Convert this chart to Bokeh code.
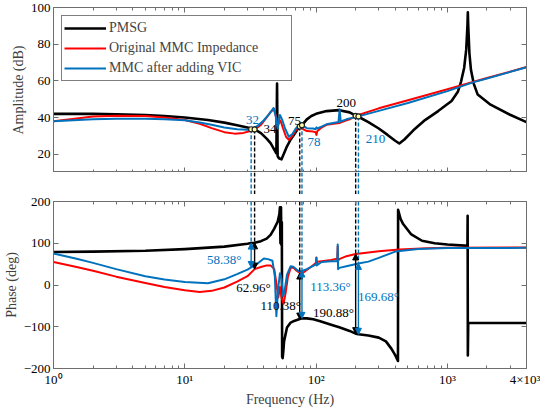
from bokeh.plotting import figure
from bokeh.models import (Range1d, FixedTicker, LinearAxis, LogAxis, Arrow, NormalHead,
                          ColumnDataSource)
from bokeh.layouts import column
from bokeh.embed import file_html
from bokeh.resources import INLINE
from bokeh.core.properties import value

# ---------------- data ----------------
pmsg_amp_f = [1, 2, 3, 5, 7, 10, 15, 20, 25, 30, 34, 38, 42, 45, 48, 49.8, 50.4, 50.9, 52, 54.5,
              57, 60, 64, 67.6, 72, 75, 78, 85, 92, 100, 120, 150, 180, 200, 210, 250, 300, 350,
              400, 430, 470, 550, 675, 850, 1075, 1200, 1270, 1340, 1390, 1420, 1430, 1440, 1470,
              1510, 1585, 1700, 2130, 3000, 4000]
pmsg_amp = [42.0, 42.0, 41.8, 41.3, 40.8, 40.0, 38.6, 37.2, 35.8, 34.6, 33.5, 31.5, 28.5, 26.0,
            22.5, 20.5, 58.5, 19.0, 17.8, 17.2, 20.5, 24.3, 28.0, 30.5, 33.5, 35.0, 35.8, 39.0,
            40.8, 42.0, 43.5, 44.0, 42.8, 41.0, 40.4, 37.5, 34.0, 30.5, 27.3, 25.8, 28.0, 33.0,
            38.6, 43.5, 49.0, 54.0, 59.6, 67.0, 77.0, 90.0, 97.4, 90.0, 75.0, 66.0, 58.5, 52.5,
            47.0, 41.5, 37.5]

red_amp_f = [1, 1.5, 2, 3, 5, 7, 10, 13, 16, 20, 24, 28, 32, 34, 38, 42, 45, 47.8, 49.3, 50.8,
             52.3, 53.5, 56, 59, 62, 66, 70, 73.5, 75, 78, 85, 95, 99, 100.5, 102, 110, 120, 150,
             160, 180, 200, 210, 300, 500, 1000, 2000, 4000]
red_amp = [38.0, 39.5, 40.5, 41.0, 40.8, 40.0, 38.6, 36.6, 34.2, 32.0, 31.2, 31.6, 32.8, 33.5,
           36.0, 40.0, 43.0, 44.6, 41.0, 35.0, 37.5, 38.4, 34.0, 29.5, 27.8, 30.0, 33.0, 35.0,
           35.0, 34.0, 32.6, 32.3, 32.0, 30.5, 32.5, 34.5, 36.0, 37.0, 37.8, 39.0, 40.8, 41.4,
           45.0, 49.4, 55.4, 61.5, 67.5]

blue_amp_f = [1, 2, 3, 5, 7, 10, 13, 16, 20, 25, 30, 32, 36, 40, 44, 47.5, 49.5, 51, 53, 55, 58,
              62, 66, 70, 75, 78, 85, 95, 99, 100.5, 102, 110, 120, 148, 151, 154, 170, 210, 300,
              500, 1000, 1585, 2000, 4000]
blue_amp = [38.0, 39.0, 39.3, 39.3, 39.0, 38.5, 37.3, 36.0, 34.6, 33.6, 33.3, 33.6, 35.5, 38.5,
            42.0, 45.2, 40.0, 34.0, 41.4, 39.0, 34.0, 29.5, 31.0, 34.0, 36.0, 35.8, 34.2, 34.0,
            33.6, 34.6, 34.0, 35.0, 36.3, 37.5, 44.5, 37.8, 39.0, 40.6, 43.6, 47.9, 54.4, 59.3,
            61.3, 67.4]

pmsg_ph_f = [1, 2, 5, 10, 20, 30, 32, 34, 38, 42, 45, 48, 51, 52.5, 53, 53.5, 54, 54.4, 54.8,
             55.1, 55.6, 56.2, 57, 60, 64, 68, 75, 78, 85, 95, 106, 130, 150, 180, 200, 210, 250,
             300, 340, 375, 400, 420, 421, 440, 460, 527, 640, 800, 1000, 1350, 1420, 1425, 1430,
             1440, 4000]
pmsg_ph = [79, 80, 82, 86, 92, 99, 100.4, 101, 105, 111, 120, 135, 152, 170, 186, 100, 186, 96,
           150, -172, -175, -160, -135, -102, -90, -86, -81.7, -79.9, -80, -82, -86, -95, -101,
           -110, -116.5, -118, -121, -126, -135, -153, -168, -182, 180, 158, 146, 122, 106, 100,
           97, 94.4, 94, 166, -169, -91, -91]

red_ph_f = [1, 1.5, 2, 3, 5, 7, 10, 13, 16, 20, 25, 30, 34, 38, 42, 45, 48, 50, 51.5, 53, 54.5,
            56.5, 58.5, 61, 64, 67, 71, 75, 80, 90, 99, 100, 100.5, 101, 103, 110, 130, 145, 146,
            147, 150, 170, 200, 250, 300, 430, 700, 1000, 4000]
red_ph = [55, 43, 34, 20, 5, -5, -12.7, -16.5, -14, -6, 8, 21, 38, 43, 47, 47, 38, 0, -30, -5,
          -30, -45, -20, 20, 41, 42, 34, 28.7, 30, 42, 52, 56, 66, 50, 56, 57, 60, 63, 92, 58, 62,
          69, 74.4, 78, 81, 85, 88, 89, 90]

blue_ph_f = [1, 1.5, 2, 3, 5, 7, 10, 15, 20, 25, 30, 32, 36, 40, 43, 46.5, 48.5, 49.8, 51.3, 53,
             54.5, 56, 57.5, 60, 64, 67, 71, 75, 78, 85, 95, 99, 100, 100.5, 101, 110, 130, 145,
             146, 147, 150, 170, 210, 250, 300, 400, 600, 1000, 4000]
blue_ph = [75.5, 63, 53, 38, 21, 13, 7, 4, 13.6, 26, 37, 42, 52, 63.5, 62, 58, 20, -75, -10, 28,
           15, -27, -15, 25, 45, 44, 37, 32, 33.5, 38, 46, 49, 55, 65, 47, 55, 57, 57, 97, 38, 41,
           45, 51.7, 56, 65, 80, 86, 88.5, 89]

# intersection points (amplitude plot)
pt_f = [32, 34, 75, 78, 200, 210]
pt_db = [33.6, 33.5, 35.1, 35.8, 40.9, 40.6]
pt_names = ["32", "34", "75", "78", "200", "210"]
pt_colors = ["#0072BD", "black", "black", "#0072BD", "black", "#0072BD"]

# phase-margin arrows
blk_arr_f = [34, 75, 200]
blk_arr_top = [101, 28.7, 74.4]
blk_arr_bot = [38, -81.7, -116.5]
blu_arr_f = [32, 78, 210]
blu_arr_top = [100.4, 33.5, 51.7]
blu_arr_bot = [42, -79.9, -118]
ph_texts = ["58.38°", "62.96°", "110.38°", "113.36°", "190.88°", "169.68°"]
ph_colors = ["#0072BD", "black", "black", "#0072BD", "black", "#0072BD"]

# tick labels
x_ticks = [1, 10, 100, 1000, 4000]
x_tick_labels = ["10⁰", "10¹", "10²", "10³", "4×10³"]
x_minor = [2, 3, 4, 5, 6, 7, 8, 9, 20, 30, 40, 50, 60, 70, 80, 90,
           200, 300, 400, 500, 600, 700, 800, 900, 2000, 3000]
amp_ticks = [20, 40, 60, 80, 100]
ph_ticks = [-200, -100, 0, 100, 200]

# ---------------- styling ----------------
FONT = "Liberation Serif"
AXC = "#6e6e6e"
BLACK, RED, BLUE = "black", "#FF0000", "#0072BD"
FW = 473
LB, RB = 48, 14
AMP_LO, AMP_HI = 10, 100
PH_LO, PH_HI = -200, 200

x_range = Range1d(1, 4000)


def style_axis(ax, labels=True, minor=True):
    ax.axis_line_color = AXC
    ax.major_tick_line_color = AXC
    ax.minor_tick_line_color = AXC if minor else None
    ax.major_tick_in = 5
    ax.major_tick_out = 0
    ax.minor_tick_in = 3
    ax.minor_tick_out = 0
    ax.major_label_text_font = FONT
    ax.major_label_text_color = "black"
    if labels:
        ax.major_label_text_font_size = "13px"
        ax.major_label_standoff = 3
    else:
        ax.major_label_text_font_size = "1px"
        ax.major_label_text_color = None
        ax.major_label_standoff = 0
    ax.axis_label_text_font = FONT
    ax.axis_label_text_font_style = "normal"
    ax.axis_label_text_font_size = "14px"
    ax.axis_label_text_color = "#404040"
    ax.axis_label_standoff = 2


def x_ticker():
    return FixedTicker(ticks=x_ticks, minor_ticks=x_minor)


def base_fig(y_lo, y_hi, fh, top_border, x_labels):
    p = figure(x_axis_type="log", x_range=x_range, y_range=Range1d(y_lo, y_hi),
               frame_width=FW, frame_height=fh, output_backend="svg",
               toolbar_location=None, min_border_left=LB, min_border_right=RB,
               min_border_top=top_border, min_border_bottom=0)
    p.xgrid.visible = False
    p.ygrid.visible = False
    p.outline_line_color = AXC
    p.background_fill_color = "white"
    bottom_ax = p.below[0]
    left_ax = p.left[0]
    bottom_ax.ticker = x_ticker()
    bottom_ax.major_label_overrides = {t: l for t, l in zip(x_ticks, x_tick_labels)}
    style_axis(bottom_ax, labels=x_labels)
    style_axis(left_ax, labels=True, minor=False)
    top_ax = LogAxis(ticker=x_ticker())
    style_axis(top_ax, labels=False)
    p.add_layout(top_ax, "above")
    return p, bottom_ax, left_ax


# ---------------- amplitude figure ----------------
pa, pa_x, pa_y = base_fig(AMP_LO, AMP_HI, 165, 7, False)
pa_y.ticker = FixedTicker(ticks=amp_ticks)
pa_y.axis_label = "Amplitude (dB)"
ra = LinearAxis(ticker=FixedTicker(ticks=amp_ticks))
style_axis(ra, labels=False, minor=False)
pa.add_layout(ra, "right")

pa.line(pmsg_amp_f, pmsg_amp, line_color=BLACK, line_width=2.6, line_join="round",
        legend_label="PMSG")
pa.line(red_amp_f, red_amp, line_color=RED, line_width=2.0, line_join="round",
        legend_label="Original MMC Impedance")
pa.line(blue_amp_f, blue_amp, line_color=BLUE, line_width=2.0, line_join="round",
        legend_label="MMC after adding VIC")

dash_src = ColumnDataSource(dict(f=pt_f, y=pt_db, lo=[AMP_LO] * len(pt_f), c=pt_colors,
                                 top=[PH_HI] * len(pt_f),
                                 pend=[blu_arr_top[0], blk_arr_top[0], blk_arr_top[1],
                                       blu_arr_top[1], blk_arr_top[2], blu_arr_top[2]]))
pa.segment(x0="f", y0="y", x1="f", y1="lo", source=dash_src, line_color="c",
           line_width=1.4, line_dash="4 2")
pa.scatter("f", "y", source=dash_src, size=5, fill_color="#ffffaa", line_color="#222222",
           line_width=1.2)

amp_lab = ColumnDataSource(dict(x=[32.8, 44.6, 68.4, 96.3, 169.4, 283],
                                y=[38.6, 33.8, 38.1, 26.9, 48.1, 28.5],
                                t=pt_names, c=pt_colors))
pa.text("x", "y", text="t", source=amp_lab, text_color="c", text_font=value(FONT),
        text_font_size="13px", text_align="center", text_baseline="middle")

lg = pa.legend[0]
lg.location = "top_left"
lg.margin = 8
lg.label_text_font = FONT
lg.label_text_font_size = "14px"
lg.border_line_color = "black"
lg.border_line_width = 1
lg.background_fill_alpha = 1.0
lg.glyph_width = 42
lg.glyph_height = 20
lg.label_height = 20
lg.label_width = 180
lg.label_standoff = 3
lg.spacing = 0
lg.padding = 2

# ---------------- gap figure (dashed leaders between plots) ----------------
pg = figure(x_axis_type="log", x_range=x_range, y_range=Range1d(0, 1), frame_width=FW,
            frame_height=22, output_backend="svg", toolbar_location=None,
            min_border_left=LB, min_border_right=RB, min_border_top=0, min_border_bottom=0)
pg.axis.visible = False
pg.outline_line_color = None
pg.xgrid.visible = False
pg.ygrid.visible = False
gap_src = ColumnDataSource(dict(f=pt_f, y0=[0] * len(pt_f), y1=[1] * len(pt_f), c=pt_colors))
pg.segment(x0="f", y0="y0", x1="f", y1="y1", source=gap_src, line_color="c",
           line_width=1.4, line_dash="4 2")

# ---------------- phase figure ----------------
pp, pp_x, pp_y = base_fig(PH_LO, PH_HI, 167, 7, True)
pp_y.ticker = FixedTicker(ticks=ph_ticks)
pp_y.axis_label = "Phase (deg)"
pp_x.axis_label = "Frequency (Hz)"
rp = LinearAxis(ticker=FixedTicker(ticks=ph_ticks))
style_axis(rp, labels=False, minor=False)
pp.add_layout(rp, "right")

pp.line(pmsg_ph_f, pmsg_ph, line_color=BLACK, line_width=2.6, line_join="round")
pp.line(red_ph_f, red_ph, line_color=RED, line_width=2.0, line_join="round")
pp.line(blue_ph_f, blue_ph, line_color=BLUE, line_width=2.0, line_join="round")

pp.segment(x0="f", y0="top", x1="f", y1="pend", source=dash_src, line_color="c",
           line_width=1.4, line_dash="4 2")

for fs, tops, bots, col in [(blk_arr_f, blk_arr_top, blk_arr_bot, BLACK),
                            (blu_arr_f, blu_arr_top, blu_arr_bot, BLUE)]:
    src = ColumnDataSource(dict(x=fs, y0=tops, y1=bots))
    pp.add_layout(Arrow(x_start="x", y_start="y0", x_end="x", y_end="y1", source=src,
                        line_color=col, line_width=1.4,
                        start=NormalHead(size=6, fill_color=col, line_color=col),
                        end=NormalHead(size=6, fill_color=col, line_color=col)))

ph_lab = ColumnDataSource(dict(x=[20, 33.3, 53.8, 128.8, 135.6, 297.8],
                               y=[61.9, -4.8, -50, -2.4, -66.7, -28.6],
                               t=ph_texts, c=ph_colors))
pp.text("x", "y", text="t", source=ph_lab, text_color="c", text_font=value(FONT),
        text_font_size="13px", text_align="center", text_baseline="middle")

layout = column(pa, pg, pp, spacing=0)
open("out.html", "w").write(file_html(layout, INLINE))
